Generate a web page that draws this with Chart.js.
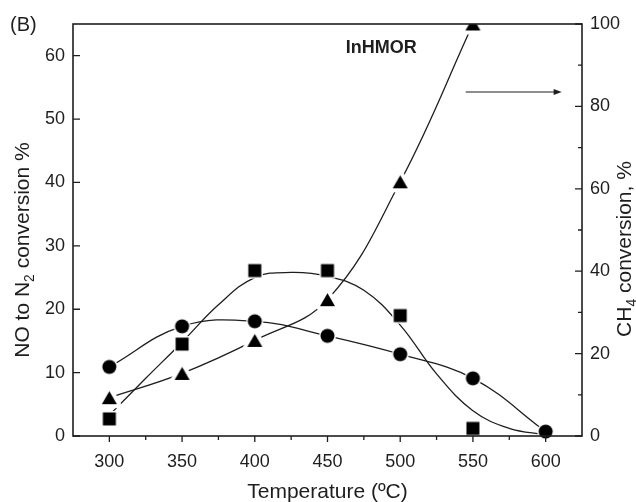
<!DOCTYPE html>
<html>
<head>
<meta charset="utf-8">
<script src="https://cdn.jsdelivr.net/npm/chart.js@4.4.1/dist/chart.umd.min.js"></script>
<style>
  html, body { margin: 0; padding: 0; background: #fff; }
  #wrap { width: 636px; height: 502px; }
</style>
</head>
<body>
<div id="wrap"><canvas id="chart" width="636" height="502"></canvas></div>
<script>
"use strict";

// Measured points
const temps = [300, 350, 400, 450, 500, 550, 600];
const noCircles = [10.9, 17.3, 18.1, 15.8, 12.9, 9.1, 0.7];
const noSquares = [2.7, 14.5, 26.1, 26.1, 19.0, 1.2];
const ch4Triangles = [9.3, 15.2, 23.2, 33.1, 61.7, 100];

// Fitted curve for the square series
const fitTemps = [300, 325, 350, 375, 400, 425, 450, 475, 500, 525, 550, 575, 600];
const fitSquares = [3.3, 9.1, 14.8, 20.7, 25.0, 25.8, 25.2, 23.0, 17.5, 9.8, 4.0, 1.2, 0.2];

// Axis ticks
const xTicks = [300, 350, 400, 450, 500, 550, 600];
const yLeftTicks = [0, 10, 20, 30, 40, 50, 60];
const yRightTicks = [0, 20, 40, 60, 80, 100];

const FONT = '"Liberation Sans", Arial, Helvetica, sans-serif';
const INK = '#1e1e1e';

function pts(xs, ys) {
    return ys.map(function (v, i) { return {x: xs[i], y: v}; });
}

// Marker sprite: black symbol with a white halo so the lines stop short of it
function makeMarker(shape, w, h, gap) {
    const c = document.createElement('canvas');
    c.width = Math.ceil(w + gap * 2 + 2);
    c.height = Math.ceil(h + gap * 2 + 2);
    const g = c.getContext('2d');
    const cx = c.width / 2, cy = c.height / 2;
    g.beginPath();
    if (shape === 'circle') {
        g.arc(cx, cy, w / 2, 0, Math.PI * 2);
    } else if (shape === 'square') {
        g.rect(cx - w / 2, cy - h / 2, w, h);
    } else {
        g.moveTo(cx, cy - h / 2);
        g.lineTo(cx + w / 2, cy + h / 2);
        g.lineTo(cx - w / 2, cy + h / 2);
        g.closePath();
    }
    if (gap > 0) {
        g.lineJoin = 'round';
        g.strokeStyle = '#fff';
        g.lineWidth = gap * 2;
        g.stroke();
    }
    g.fillStyle = '#000';
    g.fill();
    return c;
}

const circleMark = makeMarker('circle', 14, 14, 1.5);
const squareMark = makeMarker('square', 13, 13, 1.5);
const triangleMark = makeMarker('triangle', 15, 13, 4);

function measureRich(ctx, parts, size) {
    let w = 0;
    parts.forEach(function (p) {
        ctx.font = (p.sub ? size * 0.66 : size) + 'px ' + FONT;
        w += ctx.measureText(p.t).width;
    });
    return w;
}

function drawRich(ctx, parts, size, x0) {
    let x = x0;
    parts.forEach(function (p) {
        const s = p.sub ? size * 0.66 : size;
        ctx.font = s + 'px ' + FONT;
        ctx.fillText(p.t, x, p.sub ? size * 0.24 : 0);
        x += ctx.measureText(p.t).width;
    });
}

// Frame, inward/outward tick marks, axis titles and labels
const framePlugin = {
    id: 'frame',
    afterDatasetsDraw: function (chart) {
        const ctx = chart.ctx, a = chart.chartArea;
        const sx = chart.scales.x, sy = chart.scales.y, sy2 = chart.scales.y2;
        ctx.save();
        ctx.strokeStyle = INK;
        ctx.lineWidth = 1.6;
        ctx.strokeRect(a.left, a.top, a.right - a.left, a.bottom - a.top);

        ctx.lineWidth = 1.3;
        ctx.beginPath();
        // bottom axis: ticks outward
        const xs = sx.ticks.map(function (t) { return t.value; });
        xs.forEach(function (v) {
            const px = sx.getPixelForValue(v);
            ctx.moveTo(px, a.bottom); ctx.lineTo(px, a.bottom + 6);
        });
        for (let i = 0; i < xs.length - 1; i++) {
            const px = sx.getPixelForValue((xs[i] + xs[i + 1]) / 2);
            ctx.moveTo(px, a.bottom); ctx.lineTo(px, a.bottom + 4);
        }
        // left axis: ticks inward
        sy.ticks.forEach(function (t) {
            const py = sy.getPixelForValue(t.value);
            ctx.moveTo(a.left, py); ctx.lineTo(a.left + 7, py);
        });
        // right axis: major and minor ticks inward
        const ys = sy2.ticks.map(function (t) { return t.value; });
        ys.forEach(function (v) {
            const py = sy2.getPixelForValue(v);
            ctx.moveTo(a.right, py); ctx.lineTo(a.right - 7, py);
        });
        for (let i = 0; i < ys.length - 1; i++) {
            const py = sy2.getPixelForValue((ys[i] + ys[i + 1]) / 2);
            ctx.moveTo(a.right, py); ctx.lineTo(a.right - 4, py);
        }
        ctx.stroke();

        // arrow pointing at the right axis
        const ay = sy2.getPixelForValue(83.5);
        const ax0 = sx.getPixelForValue(545), ax1 = sx.getPixelForValue(611);
        ctx.lineWidth = 1.1;
        ctx.beginPath();
        ctx.moveTo(ax0, ay); ctx.lineTo(ax1 - 5, ay);
        ctx.stroke();
        ctx.fillStyle = INK;
        ctx.beginPath();
        ctx.moveTo(ax1, ay); ctx.lineTo(ax1 - 8, ay - 3); ctx.lineTo(ax1 - 8, ay + 3);
        ctx.closePath();
        ctx.fill();

        ctx.fillStyle = INK;
        ctx.textBaseline = 'alphabetic';

        ctx.textAlign = 'center';
        ctx.font = 'bold 18px ' + FONT;
        ctx.fillText('InHMOR', sx.getPixelForValue(487), 53);

        ctx.textAlign = 'left';
        ctx.font = '20px ' + FONT;
        ctx.fillText('(B)', 10, 31);

        ctx.textAlign = 'center';
        ctx.font = '21px ' + FONT;
        ctx.fillText('Temperature (\u00baC)', (a.left + a.right) / 2, 498);

        ctx.textAlign = 'left';
        const leftTitle = [{t: 'NO to N'}, {t: '2', sub: true}, {t: ' conversion %'}];
        ctx.save();
        ctx.translate(29, 250);
        ctx.rotate(-Math.PI / 2);
        drawRich(ctx, leftTitle, 21, -measureRich(ctx, leftTitle, 21) / 2);
        ctx.restore();

        const rightTitle = [{t: 'CH'}, {t: '4', sub: true}, {t: ' conversion, %'}];
        ctx.save();
        ctx.translate(631, 249);
        ctx.rotate(-Math.PI / 2);
        drawRich(ctx, rightTitle, 21, -measureRich(ctx, rightTitle, 21) / 2);
        ctx.restore();

        ctx.restore();
    }
};

const tickFont = {family: FONT, size: 18};

const ctx = document.getElementById('chart').getContext('2d');
const myChart = new Chart(ctx, {
    type: 'scatter',
    data: {
        datasets: [
            {
                data: pts(temps, noCircles),
                yAxisID: 'y',
                showLine: false,
                pointStyle: circleMark,
                pointRadius: 8,
                order: 0,
                clip: false
            },
            {
                data: pts(temps, noSquares),
                yAxisID: 'y',
                showLine: false,
                pointStyle: squareMark,
                pointRadius: 8,
                order: 0,
                clip: false
            },
            {
                data: pts(temps, ch4Triangles),
                yAxisID: 'y2',
                showLine: false,
                pointStyle: triangleMark,
                pointRadius: 8,
                order: 0,
                clip: 0
            },
            {
                data: pts(temps, noCircles),
                yAxisID: 'y',
                showLine: true,
                pointRadius: 0,
                borderColor: INK,
                borderWidth: 1.3,
                tension: 0.4,
                order: 1,
                clip: false
            },
            {
                data: pts(fitTemps, fitSquares),
                yAxisID: 'y',
                showLine: true,
                pointRadius: 0,
                borderColor: INK,
                borderWidth: 1.3,
                tension: 0.4,
                order: 1,
                clip: false
            },
            {
                data: pts(temps, ch4Triangles),
                yAxisID: 'y2',
                showLine: true,
                pointRadius: 0,
                borderColor: INK,
                borderWidth: 1.3,
                tension: 0.4,
                order: 1,
                clip: 0
            }
        ]
    },
    options: {
        responsive: false,
        animation: false,
        devicePixelRatio: 1,
        layout: {padding: {top: 24, left: 0, right: 0, bottom: 0}},
        plugins: {legend: {display: false}, tooltip: {enabled: false}},
        events: [],
        scales: {
            x: {
                type: 'linear',
                position: 'bottom',
                min: 275,
                max: 625,
                afterBuildTicks: function (s) { s.ticks = xTicks.map(function (v) { return {value: v}; }); },
                afterFit: function (s) { s.height = 66; },
                grid: {display: false, drawTicks: false},
                border: {display: false},
                ticks: {padding: 15, color: INK, font: tickFont, autoSkip: false, maxRotation: 0}
            },
            y: {
                type: 'linear',
                position: 'left',
                min: 0,
                max: 65,
                afterBuildTicks: function (s) { s.ticks = yLeftTicks.map(function (v) { return {value: v}; }); },
                afterFit: function (s) { s.width = 73; },
                grid: {display: false, drawTicks: false},
                border: {display: false},
                ticks: {padding: 8, color: INK, font: tickFont}
            },
            y2: {
                type: 'linear',
                position: 'right',
                min: 0,
                max: 100,
                afterBuildTicks: function (s) { s.ticks = yRightTicks.map(function (v) { return {value: v}; }); },
                afterFit: function (s) { s.width = 54; },
                grid: {display: false, drawTicks: false},
                border: {display: false},
                ticks: {padding: 8, color: INK, font: tickFont}
            }
        }
    },
    plugins: [framePlugin]
});
</script>
</body>
</html>
